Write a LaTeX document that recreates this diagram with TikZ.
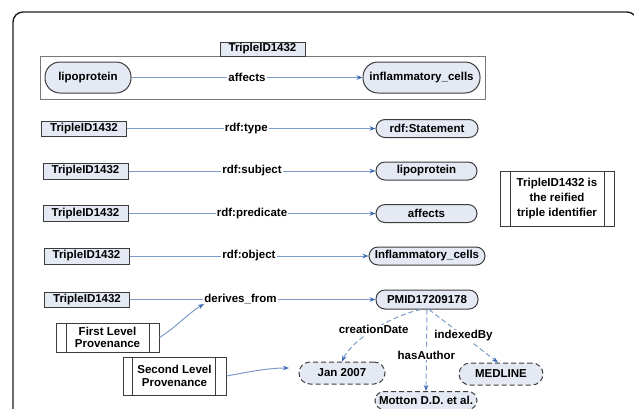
\documentclass[tikz,border=0pt]{standalone}
\usepackage{fontspec}
\setmainfont{Liberation Sans}
\usetikzlibrary{arrows.meta}
\definecolor{nodefill}{RGB}{228,233,244}
\definecolor{nodeline}{RGB}{60,60,60}
\definecolor{edgeline}{RGB}{125,155,200}
\definecolor{tipblue}{RGB}{60,105,180}
\definecolor{grpline}{RGB}{120,120,120}
\definecolor{framecol}{RGB}{30,30,30}
\begin{document}
\begin{tikzpicture}[x=1pt,y=-1pt,
  font=\fontsize{11.5}{13}\selectfont\bfseries,
  idbox/.style={draw=nodeline,fill=nodefill,line width=1pt,minimum width=85pt,minimum height=15pt,inner sep=0pt},
  oval/.style={draw=nodeline,fill=nodefill,line width=1pt,rounded corners=9pt,minimum height=18pt,inner sep=0pt},
  dashoval/.style={oval,dash pattern=on 5pt off 3pt,rounded corners=11pt,minimum height=22pt},
  rel/.style={draw=edgeline,line width=1pt,-{Stealth[length=6pt,width=4.5pt,color=tipblue]}},
  dashrel/.style={rel,dash pattern=on 5pt off 3pt},
  lbl/.style={fill=white,inner sep=1pt},
  sidebox/.style={draw=nodeline,line width=1pt,fill=white,inner sep=0pt,align=center},
  innerline/.style={draw=nodeline,line width=1pt}
]
\useasboundingbox (0,0) rectangle (634,408);
\clip (0,0) rectangle (634,408);
% outer frame
\draw[framecol,line width=1.4pt,rounded corners=10pt] (13,430) -- (13,12) -- (637,12) -- (637,430);

% reified triple group
\node[draw=grpline,line width=0.9pt,minimum width=445pt,minimum height=43pt,inner sep=0pt] (grp) at (262.5,77.5) {};
\node[idbox,minimum height=14pt] (grplbl) at (262.5,49) {TripleID1432};
\node[oval,rounded corners=15pt,minimum width=86pt,minimum height=31pt] (lipo1) at (88,77.5) {lipoprotein};
\node[oval,rounded corners=15pt,minimum width=117pt,minimum height=31pt] (infl1) at (421.5,77.5) {inflammatory\_cells};
\draw[rel] (lipo1) -- node[lbl]{affects} (infl1);

% statements
\node[idbox] (t1) at (84,128.5) {TripleID1432};
\node[oval,minimum width=102pt] (o1) at (427,128.5) {rdf:Statement};
\draw[rel] (t1) -- node[lbl,pos=0.48]{rdf:type} (o1);

\node[idbox,minimum height=16pt] (t2) at (85.5,171) {TripleID1432};
\node[oval,minimum width=101pt] (o2) at (426.5,171) {lipoprotein};
\draw[rel] (t2) -- node[lbl]{rdf:subject} (o2);

\node[idbox,minimum height=16pt] (t3) at (85.5,213.5) {TripleID1432};
\node[oval,minimum width=101pt] (o3) at (426.5,213.5) {affects};
\draw[rel] (t3) -- node[lbl]{rdf:predicate} (o3);

\node[idbox,minimum height=16pt] (t4) at (86.5,256) {TripleID1432};
\node[oval,minimum width=116pt] (o4) at (427,256) {Inflammatory\_cells};
\draw[rel] (t4) -- node[lbl]{rdf:object} (o4);

\node[idbox] (t5) at (87,299.5) {TripleID1432};
\node[oval,minimum width=102pt,minimum height=19pt] (o5) at (427,299.5) {PMID17209178};
\draw[rel] (t5) -- node[lbl,pos=0.45]{derives\_from} (o5);

% note
\node[sidebox,minimum width=114pt,minimum height=55pt,font=\fontsize{11.5}{14.7}\selectfont\bfseries] (note) at (557,198.5) {TripleID1432 is\\the reified\\triple identifier};
\draw[innerline] ([xshift=11pt]note.north west) -- ([xshift=11pt]note.south west);
\draw[innerline] ([xshift=-10pt]note.north east) -- ([xshift=-10pt]note.south east);

% provenance
\node[sidebox,minimum width=103pt,minimum height=29pt,font=\fontsize{11.5}{12.5}\selectfont\bfseries] (p1) at (107.5,337.5) {First Level\\Provenance};
\draw[innerline] ([xshift=11pt]p1.north west) -- ([xshift=11pt]p1.south west);
\draw[innerline] ([xshift=-10pt]p1.north east) -- ([xshift=-10pt]p1.south east);
\node[sidebox,minimum width=103pt,minimum height=38pt,font=\fontsize{11.5}{13.5}\selectfont\bfseries] (p2) at (174.5,376) {Second Level\\Provenance};
\draw[innerline] ([xshift=10pt]p2.north west) -- ([xshift=10pt]p2.south west);
\draw[innerline] ([xshift=-11pt]p2.north east) -- ([xshift=-11pt]p2.south east);

\coordinate (d1) at (204,304);
\coordinate (d2) at (289,368);
\draw[rel] (p1.east) .. controls (175,328) and (190,312) .. (d1);
\draw[rel] (p2.east) .. controls (248,372) and (268,368) .. (d2);

% provenance objects
\node[dashoval,minimum width=86pt] (jan) at (342,373) {Jan 2007};
\node[dashoval,minimum width=102pt,minimum height=18pt,rounded corners=9pt] (mot) at (426,400.5) {Motton D.D. et al.};
\node[dashoval,minimum width=84pt] (med) at (501,374) {MEDLINE};

\draw[dashrel] ([xshift=-6pt]o5.south) .. controls (390,316) and (352,340) .. node[lbl,pos=0.5]{creationDate} (jan.north);
\draw[dashrel] (o5.south) -- node[lbl,pos=0.56]{hasAuthor} (mot.north);
\draw[dashrel] ([xshift=2pt]o5.south) -- node[lbl,pos=0.5]{indexedBy} ([xshift=-3pt]med.north);
\end{tikzpicture}
\end{document}
